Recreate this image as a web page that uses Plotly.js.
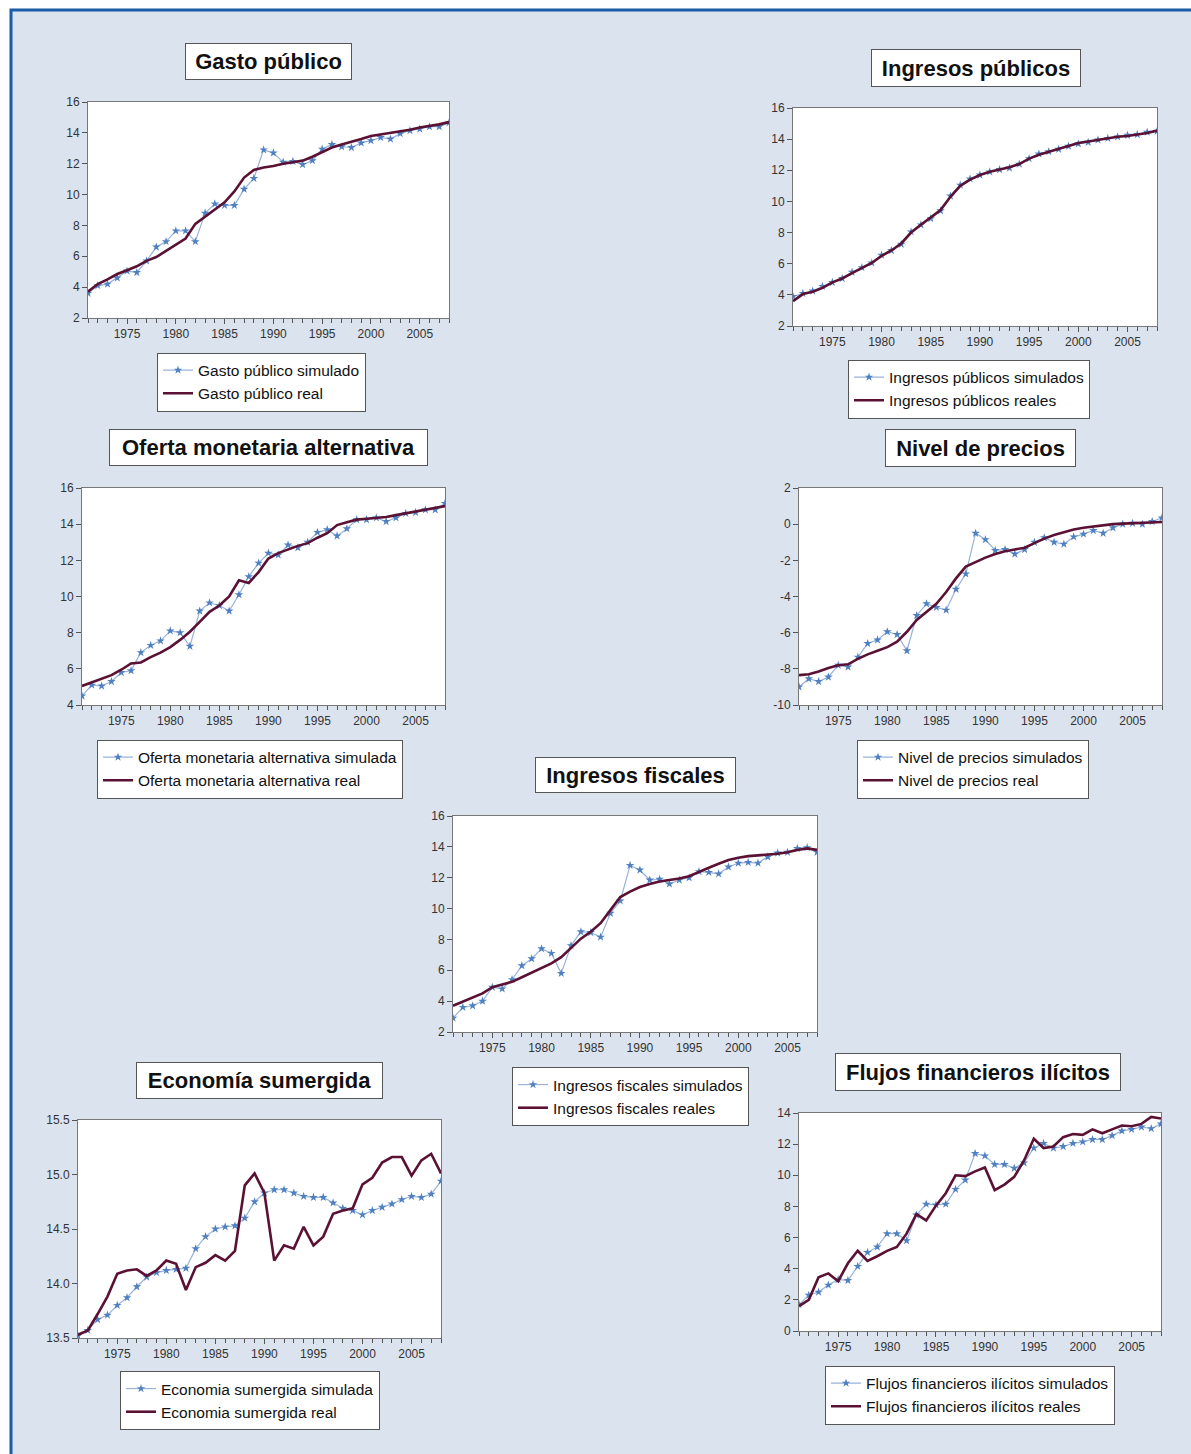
<!DOCTYPE html>
<html><head><meta charset="utf-8">
<script src="https://cdn.plot.ly/plotly-3.0.1.min.js"></script>
<style>html,body{margin:0;padding:0;background:#fff}</style>
</head><body><div id="chart" style="width:1191px;height:1454px"></div>
<script>
const years = [1971,1972,1973,1974,1975,1976,1977,1978,1979,1980,1981,1982,1983,1984,1985,1986,1987,1988,1989,1990,1991,1992,1993,1994,1995,1996,1997,1998,1999,2000,2001,2002,2003,2004,2005,2006,2007,2008];
const yearTicks = [1975,1980,1985,1990,1995,2000,2005];

const gastoSim  = [3.6,4.1,4.2,4.6,5.05,4.95,5.7,6.6,6.95,7.65,7.65,6.95,8.8,9.4,9.3,9.3,10.35,11.05,12.9,12.7,12.1,12.15,11.95,12.2,12.95,13.25,13.1,13.05,13.35,13.5,13.7,13.6,13.95,14.15,14.25,14.4,14.4,14.65];
const gastoReal = [3.7,4.2,4.5,4.85,5.1,5.35,5.7,5.95,6.35,6.75,7.15,8.1,8.55,9.0,9.5,10.2,11.1,11.6,11.75,11.85,12.0,12.1,12.2,12.45,12.75,13.05,13.25,13.4,13.6,13.8,13.9,14.0,14.1,14.2,14.35,14.45,14.55,14.7];

const ingPubSim  = [3.9,4.1,4.25,4.55,4.8,5.05,5.45,5.75,6.05,6.55,6.85,7.25,8.05,8.5,8.9,9.4,10.35,11.05,11.45,11.7,11.9,12.05,12.15,12.4,12.75,13.05,13.2,13.35,13.55,13.7,13.8,13.95,14.05,14.15,14.25,14.3,14.45,14.5];
const ingPubReal = [3.6,4.05,4.2,4.45,4.8,5.05,5.4,5.75,6.05,6.5,6.85,7.3,8.0,8.5,8.95,9.45,10.3,11.0,11.4,11.7,11.9,12.05,12.2,12.4,12.75,13.0,13.2,13.35,13.55,13.75,13.85,13.95,14.05,14.15,14.2,14.3,14.4,14.55];

const ofertaSim  = [4.5,5.1,5.05,5.3,5.8,5.9,6.9,7.3,7.55,8.1,8.0,7.25,9.2,9.65,9.5,9.2,10.1,11.1,11.85,12.4,12.3,12.85,12.7,13.0,13.55,13.7,13.35,13.75,14.25,14.25,14.35,14.15,14.35,14.6,14.65,14.8,14.8,15.15];
const ofertaReal = [5.05,5.25,5.45,5.65,5.95,6.3,6.35,6.65,6.9,7.2,7.6,8.05,8.6,9.15,9.5,10.0,10.9,10.75,11.35,12.1,12.4,12.6,12.8,12.95,13.25,13.5,13.95,14.1,14.25,14.3,14.35,14.4,14.5,14.6,14.7,14.8,14.9,15.0];

const preciosSim  = [-9.0,-8.55,-8.7,-8.45,-7.8,-7.9,-7.35,-6.6,-6.4,-5.95,-6.1,-7.0,-5.05,-4.4,-4.6,-4.75,-3.6,-2.75,-0.5,-0.85,-1.45,-1.4,-1.65,-1.4,-1.0,-0.75,-1.0,-1.1,-0.7,-0.55,-0.35,-0.5,-0.2,0.0,0.05,0.0,0.15,0.35];
const preciosReal = [-8.35,-8.3,-8.15,-7.95,-7.8,-7.75,-7.45,-7.2,-7.0,-6.8,-6.5,-5.95,-5.3,-4.85,-4.4,-3.75,-3.0,-2.35,-2.1,-1.85,-1.65,-1.5,-1.4,-1.3,-1.05,-0.8,-0.6,-0.45,-0.3,-0.2,-0.12,-0.05,0.0,0.03,0.05,0.07,0.1,0.12];
const preciosTickVals = [-10,-8,-6,-4,-2,0,2];
const preciosTickText = ['-10','-8','-6','-4','-2','0','2'];

const fiscalSim  = [2.9,3.6,3.7,4.0,4.9,4.8,5.4,6.3,6.75,7.4,7.1,5.8,7.6,8.5,8.45,8.15,9.7,10.5,12.8,12.5,11.85,11.9,11.6,11.85,12.0,12.4,12.35,12.25,12.7,12.95,13.0,12.95,13.35,13.6,13.65,13.9,13.95,13.65];
const fiscalReal = [3.7,3.95,4.2,4.5,4.9,5.05,5.25,5.55,5.85,6.2,6.45,6.85,7.45,8.05,8.5,9.05,9.9,10.75,11.1,11.4,11.6,11.75,11.85,11.95,12.1,12.4,12.65,12.9,13.15,13.3,13.4,13.45,13.5,13.55,13.65,13.8,13.9,13.8];

const sumSim  = [13.52,13.57,13.67,13.71,13.8,13.87,13.97,14.06,14.1,14.12,14.13,14.14,14.32,14.43,14.5,14.52,14.53,14.6,14.75,14.83,14.86,14.86,14.83,14.8,14.79,14.79,14.74,14.69,14.67,14.63,14.67,14.7,14.73,14.77,14.8,14.79,14.82,14.94];
const sumReal = [13.53,13.57,13.72,13.88,14.09,14.12,14.13,14.07,14.12,14.21,14.18,13.94,14.15,14.19,14.26,14.21,14.3,14.9,15.01,14.83,14.21,14.35,14.32,14.52,14.35,14.43,14.64,14.67,14.69,14.91,14.97,15.11,15.16,15.16,14.99,15.13,15.19,15.01];

const flujosSim  = [1.7,2.3,2.5,2.95,3.3,3.25,4.15,5.05,5.4,6.25,6.25,5.8,7.45,8.15,8.1,8.15,9.1,9.7,11.4,11.25,10.7,10.7,10.45,10.8,11.75,12.05,11.75,11.85,12.05,12.15,12.3,12.3,12.55,12.85,12.95,13.1,13.0,13.3];
const flujosReal = [1.6,2.0,3.45,3.7,3.2,4.35,5.15,4.5,4.8,5.15,5.4,6.25,7.5,7.1,8.05,8.85,10.0,9.95,10.25,10.5,9.05,9.4,9.9,10.95,12.35,11.75,11.85,12.45,12.65,12.6,12.95,12.7,12.95,13.2,13.15,13.3,13.75,13.65];

const titles = ["Gasto público","Ingresos públicos","Oferta monetaria alternativa","Nivel de precios","Ingresos fiscales","Economía sumergida","Flujos financieros ilícitos"];
const simNames = ["Gasto público simulado","Ingresos públicos simulados","Oferta monetaria alternativa simulada","Nivel de precios simulados","Ingresos fiscales simulados","Economia sumergida simulada","Flujos financieros ilícitos simulados"];
const realNames = ["Gasto público real","Ingresos públicos reales","Oferta monetaria alternativa real","Nivel de precios real","Ingresos fiscales reales","Economia sumergida real","Flujos financieros ilícitos reales"];
const simSeries = [gastoSim, ingPubSim, ofertaSim, preciosSim, fiscalSim, sumSim, flujosSim];
const realSeries = [gastoReal, ingPubReal, ofertaReal, preciosReal, fiscalReal, sumReal, flujosReal];
const yRanges = [[2,16],[2,16],[4,16],[-10,2],[2,16],[13.5,15.5],[0,14]];
const yDticks = [2,2,2,2,2,0.5,2];

// layout geometry (pixels)
const W = 1191, H = 1454;
const plotBox = [[88,449,102,318],[793,1157,108,326],[82,445,488,705],[799,1162,488,705],[453,817,816,1032],[78,441,1120,1338],[799,1161,1113,1331]];
const titleBox = [[185,352,43,80],[871,1081,49,87],[109,428,429,466],[885,1076,429,467],[535,736,757,793],[136,383,1062,1099],[835,1121,1053,1091]];
const legendBox = [[157,359,405],[848,366,412],[97,746,792],[857,746,792],[512,1073,1120],[120,1377,1424],[825,1372,1418]];

const SIMLINE = '#98b3da', SIMMARK = '#4f80c2', REAL = '#5a1133';
const FONT = 'Liberation Sans, Arial, sans-serif';

const traces = [];
const layout = {
  width: W, height: H,
  margin: {l:0, r:0, t:0, b:0},
  paper_bgcolor: '#dbe3ee',
  plot_bgcolor: '#ffffff',
  showlegend: true,
  font: {family: FONT, color: '#222'},
  annotations: [],
  shapes: [
    {type:'rect', xref:'paper', yref:'paper', x0:0, x1:10/W, y0:0, y1:1, fillcolor:'#ffffff', line:{width:0}, layer:'below'},
    {type:'rect', xref:'paper', yref:'paper', x0:0, x1:1, y0:1-9/H, y1:1, fillcolor:'#ffffff', line:{width:0}, layer:'below'},
    {type:'rect', xref:'paper', yref:'paper', x0:11/W, x1:1.01, y0:-0.01, y1:1-10/H, fillcolor:'rgba(0,0,0,0)', line:{width:3, color:'#1a5ca5'}, layer:'above'}
  ]
};

for (let i = 0; i < 7; i++) {
  const n = i === 0 ? '' : String(i + 1);
  const lg = i === 0 ? 'legend' : 'legend' + (i + 1);
  traces.push({
    x: years, y: simSeries[i], xaxis: 'x' + n, yaxis: 'y' + n, legend: lg,
    name: simNames[i], type: 'scatter', mode: 'lines+markers',
    line: {color: SIMLINE, width: 1.2},
    marker: {symbol: 'star', size: 6.5, color: SIMMARK, line: {width: 0}},
    cliponaxis: true
  });
  traces.push({
    x: years, y: realSeries[i], xaxis: 'x' + n, yaxis: 'y' + n, legend: lg,
    name: realNames[i], type: 'scatter', mode: 'lines',
    line: {color: REAL, width: 2.6}
  });
  const pb = plotBox[i];
  layout['xaxis' + n] = {
    domain: [pb[0] / W, pb[1] / W], anchor: 'y' + n,
    range: [1971, 2008], tickmode: 'array', tickvals: yearTicks,
    ticks: 'outside', ticklen: 5, tickwidth: 1, tickcolor: '#555',
    minor: {tickmode: 'array', tickvals: years, ticks: 'outside', ticklen: 4, tickcolor: '#555'},
    showline: true, linecolor: '#777', linewidth: 1, mirror: true,
    showgrid: false, zeroline: false,
    tickfont: {family: FONT, size: 12, color: '#333'}, fixedrange: true
  };
  const ya = {
    domain: [1 - pb[3] / H, 1 - pb[2] / H], anchor: 'x' + n,
    range: yRanges[i], dtick: yDticks[i], tick0: yRanges[i][0],
    tickformat: i === 5 ? '.1f' : '',
    ticks: 'outside', ticklen: 5, tickwidth: 1, tickcolor: '#555',
    showline: true, linecolor: '#777', linewidth: 1, mirror: true,
    showgrid: false, zeroline: false,
    tickfont: {family: FONT, size: 12, color: '#333'}, fixedrange: true
  };
  if (i === 3) { ya.tickmode = 'array'; ya.tickvals = preciosTickVals; ya.ticktext = preciosTickText; }
  layout['yaxis' + n] = ya;
  const tb = titleBox[i];
  layout.annotations.push({
    xref: 'paper', yref: 'paper',
    x: (tb[0] + tb[1]) / 2 / W, y: 1 - (tb[2] + tb[3]) / 2 / H,
    xanchor: 'center', yanchor: 'middle',
    width: tb[1] - tb[0] - 2, height: tb[3] - tb[2] - 2,
    text: '<b>' + titles[i] + '</b>', showarrow: false,
    font: {family: FONT, size: 22, color: '#111'},
    bgcolor: '#ffffff', bordercolor: '#555', borderwidth: 1, borderpad: 0
  });
  const lb = legendBox[i];
  layout[lg] = {
    x: lb[0] / W, y: 1 - (lb[1] + lb[2]) / 2 / H, xanchor: 'left', yanchor: 'middle',
    xref: 'paper', yref: 'paper',
    bgcolor: '#ffffff', bordercolor: '#555', borderwidth: 1,
    font: {family: FONT, size: 15.5, color: '#111'},
    traceorder: 'normal', tracegroupgap: 0, itemwidth: 30
  };
}

Plotly.newPlot('chart', traces, layout, {staticPlot: true, displayModeBar: false});
</script>
</body></html>
